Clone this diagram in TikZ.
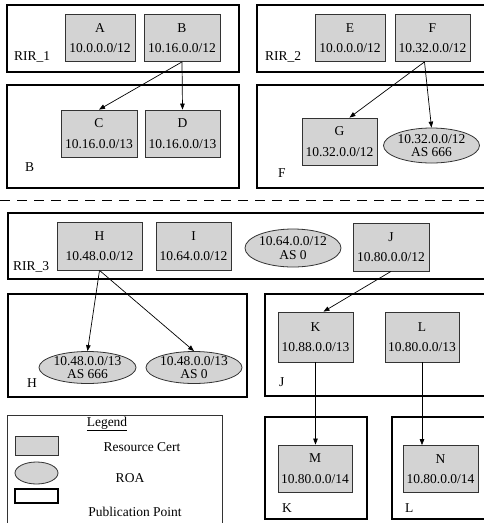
\documentclass[tikz,border=0pt]{standalone}
\usepackage{fontspec}
\setmainfont{Liberation Serif}
\usepackage{tikz}
\usetikzlibrary{arrows.meta, positioning, shapes.geometric}
\tikzset{every node/.style={font=\fontsize{13.5}{13.5}\selectfont}}
\usepackage{xcolor}
\definecolor{certgray}{HTML}{D3D3D3}

\begin{document}
\begin{tikzpicture}[x=1pt, y=-1pt,
    cert/.style={draw=black!80, fill=certgray, line width=0.8pt, align=center, inner sep=0pt, minimum height=47},
    roa/.style={ellipse, draw=black!80, fill=certgray, line width=0.8pt, align=center, inner sep=0pt},
    pubbox/.style={draw, line width=1.6pt},
    pplabel/.style={anchor=west, inner sep=0pt},
    edge/.style={-{Triangle[length=6pt,width=4.5pt]}, line width=0.7pt}]
  \useasboundingbox (0,0) rectangle (484,523);
  \clip (0,0) rectangle (484,523);

  \draw[pubbox] (7,5) rectangle (239,72);
  \draw[pubbox] (7,85) rectangle (239,188);
  \draw[pubbox] (257,5) rectangle (495,72);
  \draw[pubbox] (257,85) rectangle (495,188);
  \draw[line width=0.8pt, dash pattern=on 10pt off 7pt] (0,200) -- (484,200);
  \draw[pubbox] (8,213) rectangle (495,279);
  \draw[pubbox] (8,294) rectangle (247,397);
  \draw[pubbox] (265,294) rectangle (495,396);
  \draw[pubbox] (265,417) rectangle (367,519);
  \draw[pubbox] (392,417) rectangle (495,519);

  \node[pplabel] (lRIR1) at (14,57) {RIR\_1};
  \node[pplabel] (lB) at (25,167) {B};
  \node[pplabel] (lRIR2) at (265,57) {RIR\_2};
  \node[pplabel] (lF) at (278,173) {F};
  \node[pplabel] (lRIR3) at (13,267) {RIR\_3};
  \node[pplabel] (lH) at (27,383) {H};
  \node[pplabel] (lJ) at (279,382) {J};
  \node[pplabel] (lK) at (282,508) {K};
  \node[pplabel] (lL) at (405,508) {L};

  \node[cert, minimum width=70] (A) at (100,38) {A\\[7pt]10.0.0.0/12};
  \node[cert, minimum width=76] (B) at (182,38) {B\\[7pt]10.16.0.0/12};
  \node[cert, minimum width=76] (C) at (99,133.5) {C\\[7pt]10.16.0.0/13};
  \node[cert, minimum width=75] (D) at (182.5,133.5) {D\\[7pt]10.16.0.0/13};
  \node[cert, minimum width=70] (E) at (350,38) {E\\[7pt]10.0.0.0/12};
  \node[cert, minimum width=75] (F) at (432.5,38) {F\\[7pt]10.32.0.0/12};
  \node[cert, minimum width=75] (G) at (339.5,141.5) {G\\[7pt]10.32.0.0/12};
  \node[roa, minimum width=95, minimum height=35] (roaF) at (431.5,145.5) {10.32.0.0/12\\AS 666};

  \node[cert, minimum width=85, minimum height=48] (H) at (99.5,246) {H\\[7pt]10.48.0.0/12};
  \node[cert, minimum width=75, minimum height=48] (I) at (193.5,246) {I\\[7pt]10.64.0.0/12};
  \node[roa, minimum width=96, minimum height=38] (roaI) at (293,248) {10.64.0.0/12\\AS 0};
  \node[cert, minimum width=76, minimum height=48] (J) at (391,247) {J\\[7pt]10.80.0.0/12};
  \node[roa, minimum width=97, minimum height=32] (roaH1) at (87.5,367.5) {10.48.0.0/13\\AS 666};
  \node[roa, minimum width=96, minimum height=32] (roaH2) at (194,367.5) {10.48.0.0/13\\AS 0};
  \node[cert, minimum width=75, minimum height=50] (K) at (315.5,337) {K\\[7pt]10.88.0.0/13};
  \node[cert, minimum width=74, minimum height=50] (L) at (422,337) {L\\[7pt]10.80.0.0/13};
  \node[cert, minimum width=74] (M) at (315,468.5) {M\\[7pt]10.80.0.0/14};
  \node[cert, minimum width=75] (N) at (440.5,469) {N\\[7pt]10.80.0.0/14};

  \draw[edge] (B.south) -- (C.north);
  \draw[edge] (B.south) -- (D.north);
  \draw[edge] ([xshift=-8pt]F.south) -- ([xshift=10pt]G.north);
  \draw[edge] ([xshift=-8pt]F.south) -- (roaF.north);
  \draw[edge] (H.south) -- (roaH1.north);
  \draw[edge] (H.south) -- (roaH2.north);
  \draw[edge] (J.south) -- ([xshift=8pt]K.north);
  \draw[edge] (K.south) -- (M.north -| K.south);
  \draw[edge] (L.south) -- (N.north -| L.south);

  \draw[draw=black!80, line width=0.8pt] (7,415) rectangle (222,530);
  \node (legTitle) at (107,424) {\underline{Legend}};
  \node[cert, minimum width=43, minimum height=19] (legCert) at (36.5,445.5) {};
  \node (txtCert) at (142,447) {Resource Cert};
  \node[roa, minimum width=43, minimum height=22] (legRoa) at (36.5,473) {};
  \node (txtRoa) at (130,478) {ROA};
  \node[draw, line width=1.6pt, minimum width=43, minimum height=14, inner sep=0pt] (legPub) at (36.5,496) {};
  \node (txtPub) at (135,512) {Publication Point};
\end{tikzpicture}
\end{document}
